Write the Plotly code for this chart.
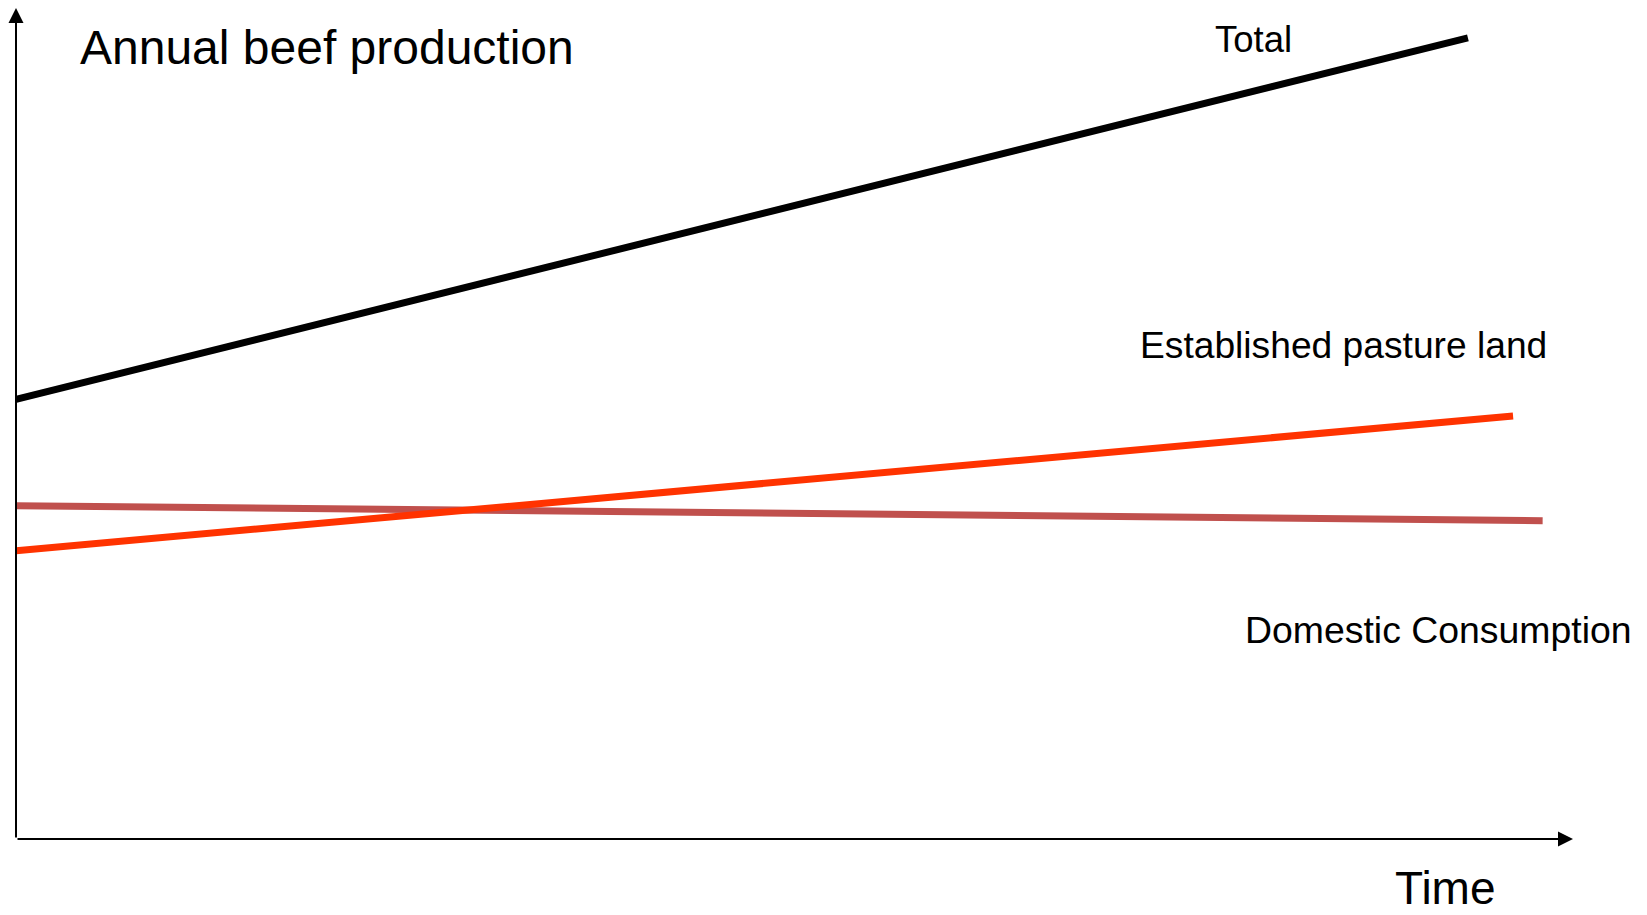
import plotly.graph_objects as go

# Time axis (arbitrary units, 0..100) and production (arbitrary units, 0..100)
time_total = [0, 93.25]
total = [52.9, 96.4]

time_pasture = [0, 96.15]
pasture = [34.7, 50.9]

time_domestic = [0, 98.05]
domestic = [40.1, 38.3]

series_names = ["Total", "Established pasture land", "Domestic Consumption"]

FONT = "Arial, Liberation Sans, sans-serif"

fig = go.Figure()
fig.add_trace(go.Scatter(x=time_total, y=total, mode="lines", name=series_names[0],
                         line=dict(color="#000000", width=7)))
fig.add_trace(go.Scatter(x=time_domestic, y=domestic, mode="lines", name=series_names[2],
                         line=dict(color="#C0504D", width=7)))
fig.add_trace(go.Scatter(x=time_pasture, y=pasture, mode="lines", name=series_names[1],
                         line=dict(color="#FF3300", width=7)))

annotations = [
    # x axis arrow
    dict(x=100, y=0, ax=0, ay=0, xref="x", yref="y", axref="x", ayref="y",
         showarrow=True, arrowhead=2, arrowsize=1.5, arrowwidth=2, arrowcolor="#000000", text=""),
    # y axis arrow
    dict(x=0, y=100, ax=0, ay=0, xref="x", yref="y", axref="x", ayref="y",
         showarrow=True, arrowhead=2, arrowsize=1.5, arrowwidth=2, arrowcolor="#000000", text=""),
    dict(x=4.0, y=95.3, xref="x", yref="y", text="Annual beef production", showarrow=False,
         xanchor="left", yanchor="middle", font=dict(family=FONT, size=48, color="#000000")),
    dict(x=76.9, y=96.15, xref="x", yref="y", text=series_names[0], showarrow=False,
         xanchor="left", yanchor="middle", font=dict(family=FONT, size=36.5, color="#000000")),
    dict(x=72.05, y=59.45, xref="x", yref="y", text=series_names[1], showarrow=False,
         xanchor="left", yanchor="middle", font=dict(family=FONT, size=37.2, color="#000000")),
    dict(x=78.8, y=25.2, xref="x", yref="y", text=series_names[2], showarrow=False,
         xanchor="left", yanchor="middle", font=dict(family=FONT, size=37.4, color="#000000")),
    dict(x=0.8847, y=-0.0584, xref="paper", yref="paper", text="Time", showarrow=False,
         xanchor="left", yanchor="middle", font=dict(family=FONT, size=46, color="#000000")),
]

fig.update_layout(
    width=1647, height=915,
    margin=dict(l=16, r=74, t=8, b=76, pad=0),
    paper_bgcolor="white", plot_bgcolor="white",
    showlegend=False,
    hovermode=False,
    xaxis=dict(range=[0, 100], visible=False, fixedrange=True),
    yaxis=dict(range=[0, 100], visible=False, fixedrange=True),
    annotations=annotations,
)

fig.write_html("out.html", config={"displayModeBar": False})
